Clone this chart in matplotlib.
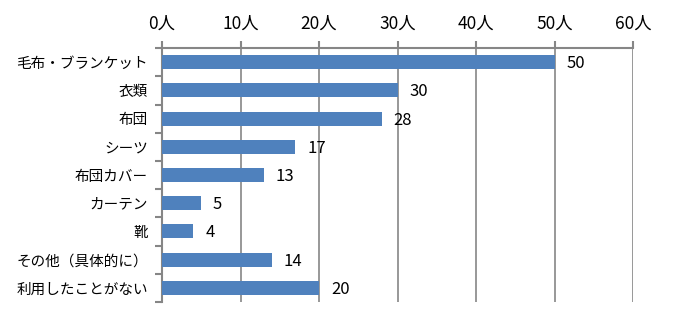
import matplotlib
matplotlib.use("Agg")
import matplotlib.pyplot as plt
import numpy as np

plt.rcParams['font.family'] = ['Noto Sans CJK JP', 'DejaVu Sans']

categories = ["毛布・ブランケット", "衣類", "布団", "シーツ", "布団カバー", "カーテン", "靴", "その他（具体的に）", "利用したことがない"]
values = [50, 30, 28, 17, 13, 5, 4, 14, 20]
xticks = [0, 10, 20, 30, 40, 50, 60]
xtick_labels = [f"{v}人" for v in xticks]

fig = plt.figure(figsize=(6.75, 3.25), dpi=100)
ax = fig.add_axes([0.24, 0.071, 0.698, 0.781])

y = np.arange(len(categories))
ax.barh(y, values, height=0.5, color="#4F81BD", zorder=3)
for yi, v in zip(y, values):
    ax.text(v + 1.5, yi + 0.05, str(v), va="center", ha="left", fontsize=12, color="black")

ax.set_xlim(0, 60)
ax.set_ylim(len(categories) - 0.5, -0.5)
ax.xaxis.tick_top()
ax.set_xticks(xticks)
ax.set_xticklabels(xtick_labels, fontsize=12.5)
ax.set_yticks(y)
ax.set_yticklabels(categories, fontsize=10.5)
ax.set_yticks(np.arange(len(categories) + 1) - 0.5, minor=True)
ax.tick_params(axis="y", which="major", length=0, pad=10)
ax.tick_params(axis="y", which="minor", length=5, width=1.5, color="#868686", direction="out")
ax.tick_params(axis="x", which="major", length=5, width=1.5, color="#868686", direction="out", pad=6)
ax.grid(axis="x", color="#868686", linewidth=1.2, zorder=0)

for s in ["right", "bottom"]:
    ax.spines[s].set_visible(False)
for s in ["top", "left"]:
    ax.spines[s].set_color("#868686")
    ax.spines[s].set_linewidth(1.5)

fig.savefig("out.png", dpi=100)
